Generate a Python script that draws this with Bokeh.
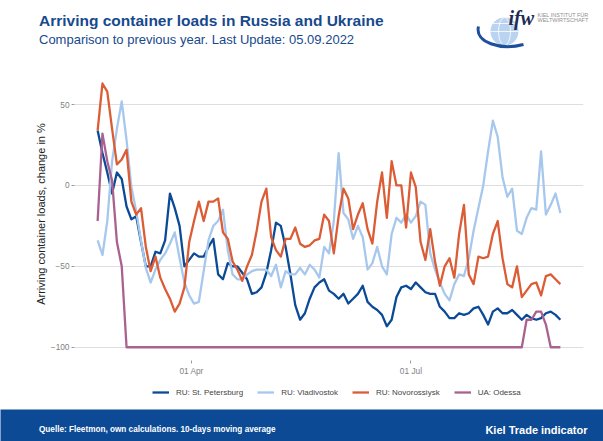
from datetime import timedelta
import pandas as pd
from bokeh.plotting import figure
from bokeh.models import Range1d, FixedTicker, DatetimeTickFormatter, Legend, LegendItem
from bokeh.layouts import column
from bokeh.embed import file_html
from bokeh.resources import INLINE
from bokeh.core.properties import value

FONT = "Liberation Sans"

# ---- data (10-day moving average, change vs previous year in %), every 2nd day from 21 Feb 2022 ----
start_date = "2022-02-21"
n_points = 97
step_days = 2

st_petersburg = [34, 20, 8, -5, 8, 4, -13, -21, -19, -35,
                 -50, -50, -41, -42, -34, -5, -14, -25, -50, -46,
                 -42, -44, -44, -38, -33, -55, -58, -48, -50, -50,
                 -54, -58, -67, -66, -63, -54, -40, -23, -25, -38,
                 -55, -74, -83, -79, -70, -63, -60, -58, -65, -67,
                 -70, -67, -73, -70, -67, -62, -72, -75, -77, -80,
                 -87, -83, -69, -63, -62, -64, -60, -63, -66, -67,
                 -67, -75, -78, -82, -82, -79, -80, -79, -76, -75,
                 -80, -86, -78, -76, -79, -79, -77, -80, -83, -80,
                 -82, -83, -82, -79, -78, -80, -83]

vladivostok = [-34, -43, -22, 15, 35, 52, 28, -1, -16, -34,
               -51, -60, -52, -46, -42, -36, -29, -45, -60, -68,
               -73, -72, -53, -34, -25, -22, -15, -40, -55, -58,
               -58, -55, -53, -52, -52, -52, -56, -49, -63, -53,
               -55, -55, -51, -55, -49, -52, -57, -38, -42, -22,
               20, -17, -21, -33, -25, -32, -52, -48, -38, -50,
               -55, -30, -20, -23, -18, -23, -19, -10, -12, -42,
               -52, -60, -67, -71, -61, -55, -56, -45, -28, -14,
               0, 21, 40, 30, 5, -7, -2, -28, -30, -20,
               -14, -15, 21, -18, -12, -5, -17]

novorossiysk = [34, 63, 58, 35, 13, 16, 22, -10, -18, -14,
                -38, -53, -44, -57, -64, -70, -78, -73, -63, -35,
                -22, -10, -22, -10, -10, -8, -29, -33, -47, -52,
                -59, -50, -43, -28, -10, -2, -32, -40, -44, -33,
                -33, -26, -36, -38, -37, -34, -33, -18, -22, -42,
                -19, -2, -8, -27, -18, -11, -27, -36, -10, 8,
                -20, 15, 0, 0, -26, 8, -1, -35, -46, -27,
                -47, -62, -50, -45, -57, -30, -12, -55, -61, -44,
                -45, -44, -30, -22, -45, -61, -63, -50, -69, -65,
                -61, -60, -68, -56, -55, -58, -61]

odessa = [-22, 32, 15, 3, -35, -50, -100, -100, -100, -100,
          -100, -100, -100, -100, -100, -100, -100, -100, -100, -100,
          -100, -100, -100, -100, -100, -100, -100, -100, -100, -100,
          -100, -100, -100, -100, -100, -100, -100, -100, -100, -100,
          -100, -100, -100, -100, -100, -100, -100, -100, -100, -100,
          -100, -100, -100, -100, -100, -100, -100, -100, -100, -100,
          -100, -100, -100, -100, -100, -100, -100, -100, -100, -100,
          -100, -100, -100, -100, -100, -100, -100, -100, -100, -100,
          -100, -100, -100, -100, -100, -100, -100, -100, -100, -83,
          -83, -78, -78, -86, -100, -100, -100]

series_names = ["RU: St. Petersburg", "RU: Vladivostok", "RU: Novorossiysk", "UA: Odessa"]
series_values = [st_petersburg, vladivostok, novorossiysk, odessa]
series_colors = ["#0b4a97", "#a7c8ec", "#dc5c36", "#a9628f"]

y_ticks = [-100, -50, 0, 50]
x_tick_dates = ["2022-04-01", "2022-07-01"]

dates = list(pd.date_range(start_date, periods=n_points, freq=f"{step_days}D"))

TITLE_COL = "#17498d"
BAND_COL = "#0c4a96"
W = 603


def bare(height, **kw):
    fig = figure(width=W, height=height, x_range=Range1d(0, W), y_range=Range1d(height, 0),
                 output_backend="svg", toolbar_location=None, min_border=0,
                 x_axis_location=None, y_axis_location=None, frame_align=False, **kw)
    fig.grid.visible = False
    fig.outline_line_color = None
    return fig


# ---- header ----
HH = 58
h = bare(HH)
h.text(x=[38.5], y=[20], text=["Arriving container loads in Russia and Ukraine"],
       text_font=value(FONT), text_font_size="15.5px", text_font_style="bold",
       text_color=TITLE_COL, text_baseline="middle", text_align="left")
h.text(x=[38.5], y=[38.5], text=["Comparison to previous year. Last Update: 05.09.2022"],
       text_font=value(FONT), text_font_size="13px", text_font_style="normal",
       text_color=TITLE_COL, text_baseline="middle", text_align="left")
# logo (approximation)
h.circle(x=[504], y=[31], radius=14, fill_color="#b9d3f0", line_color=None)
h.ellipse(x=[504], y=[31], width=12, height=28, fill_color=None, line_color="white", line_width=0.8)
h.segment(x0=[490], y0=[31], x1=[518], y1=[31], line_color="white", line_width=0.8)
h.segment(x0=[492], y0=[23], x1=[516], y1=[23], line_color="white", line_width=0.8)
h.bezier(x0=[478], y0=[26], x1=[523], y1=[44], cx0=[474], cy0=[42], cx1=[500], cy1=[50],
         line_color="#1c4f9c", line_width=3)
h.text(x=[508], y=[17], text=["ifw"], text_font=value("Liberation Serif"),
       text_font_size="20px", text_font_style="bold italic", text_color="#1d2b55",
       text_baseline="middle", text_align="left")
h.text(x=[537], y=[14], text=["KIEL INSTITUT FÜR"], text_font=value(FONT),
       text_font_size="5.5px", text_color="#8f8f8f", text_baseline="middle", text_align="left")
h.text(x=[537], y=[19.5], text=["WELTWIRTSCHAFT"], text_font=value(FONT),
       text_font_size="5.5px", text_color="#8f8f8f", text_baseline="middle", text_align="left")

# ---- main chart ----
pad = timedelta(days=9.6)
p = figure(width=W, height=322, x_axis_type="datetime",
           x_range=Range1d(dates[0] - pad, dates[-1] + pad),
           y_range=Range1d(-108.2, 72.9),
           output_backend="svg", toolbar_location=None, frame_align=False,
           min_border_left=74, min_border_right=20, min_border_top=9, min_border_bottom=20)
p.outline_line_color = None
p.xgrid.visible = False
p.ygrid.grid_line_color = "#dedede"
p.ygrid.grid_line_width = 1

p.yaxis.ticker = FixedTicker(ticks=y_ticks)
p.xaxis.ticker = FixedTicker(ticks=[pd.Timestamp(d).timestamp() * 1000 for d in x_tick_dates])
fmt = "%d %b"
p.xaxis.formatter = DatetimeTickFormatter(milliseconds=fmt, seconds=fmt, minsec=fmt, minutes=fmt,
                                          hourmin=fmt, hours=fmt, days=fmt, months=fmt, years=fmt)
for ax in [p.xaxis[0], p.yaxis[0]]:
    ax.axis_line_color = None
    ax.major_tick_in = 0
    ax.major_tick_out = 3
    ax.major_tick_line_color = "#9a9a9a"
    ax.minor_tick_line_color = None
    ax.major_label_text_font = FONT
    ax.major_label_text_font_size = "8.3px"
    ax.major_label_text_color = "#7f7f7f"
    ax.major_label_standoff = 2
p.yaxis.axis_label = "Arriving container loads, change in %"
p.yaxis.axis_label_text_font = FONT
p.yaxis.axis_label_text_font_size = "11px"
p.yaxis.axis_label_text_font_style = "normal"
p.yaxis.axis_label_text_color = "#222222"
p.yaxis.axis_label_standoff = 1

for vals, col in zip(series_values, series_colors):
    p.line(dates, vals, line_color=col, line_width=2.3, line_join="round")

# ---- legend strip: the same series (outside this strip's view) provide the legend keys ----
LH = 29
lg = bare(LH)
items = []
for name, vals, col in zip(series_names, series_values, series_colors):
    r = lg.line(dates, vals, line_color=col, line_width=2.3)
    items.append(LegendItem(label=name, renderers=[r]))
legend = Legend(items=items, orientation="horizontal", location=(152, 12),
                label_text_font=FONT, label_text_font_size="8px", label_text_color="#444444",
                glyph_width=17, glyph_height=10, label_height=10, label_standoff=7,
                spacing=14, padding=2, margin=0, border_line_color=None,
                background_fill_alpha=0)
lg.add_layout(legend)

# ---- footer ----
FH = 32
f = bare(FH, background_fill_color=BAND_COL, border_fill_color=BAND_COL)
f.text(x=[38.5], y=[20], text=["Quelle: Fleetmon, own calculations. 10-days moving average"],
       text_font=value(FONT), text_font_size="8.2px", text_font_style="bold",
       text_color="white", text_baseline="middle", text_align="left")
f.text(x=[587], y=[20], text=["Kiel Trade indicator"],
       text_font=value(FONT), text_font_size="11px", text_font_style="bold",
       text_color="white", text_baseline="middle", text_align="right")

layout = column(h, p, lg, f, spacing=0)
open("out.html", "w").write(file_html(layout, INLINE))
